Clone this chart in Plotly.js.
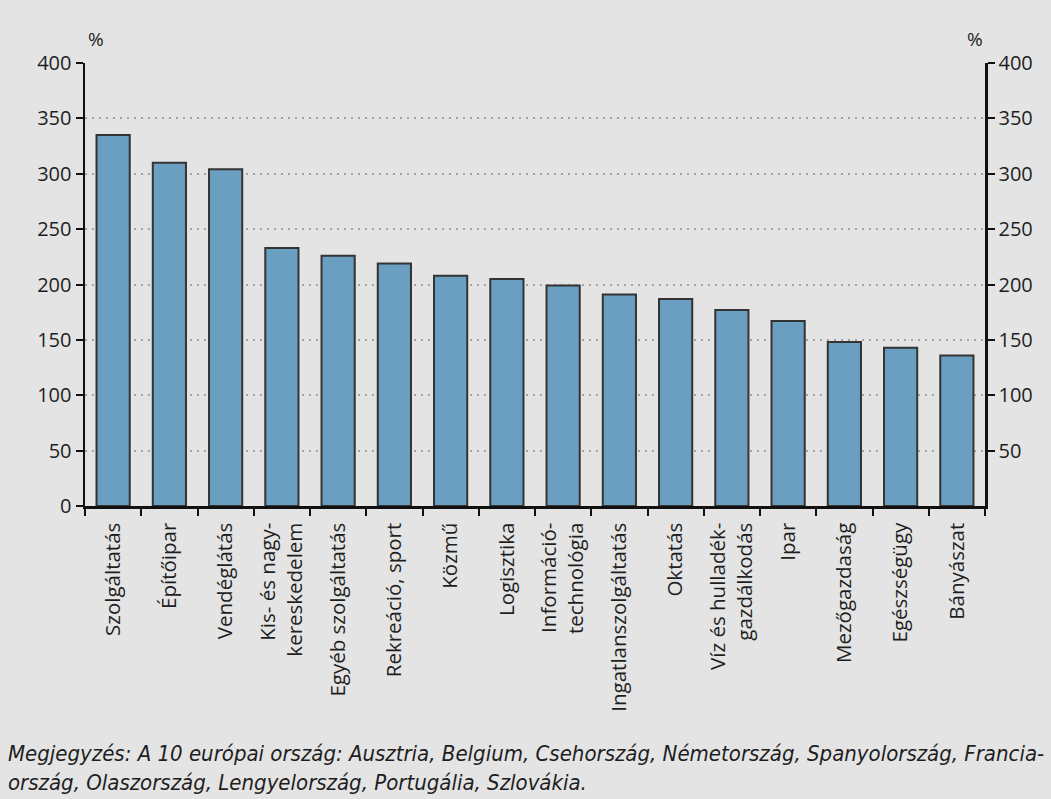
<!DOCTYPE html>
<html>
<head>
<meta charset="utf-8">
<script src="https://cdn.plot.ly/plotly-3.0.1.min.js"></script>
<style>
  html, body { margin: 0; padding: 0; background: #e4e4e4; }
  #chart { width: 1051px; height: 799px; }
</style>
</head>
<body>
<div id="chart"></div>
<script>
// Sectors (category labels, two-line where the label wraps)
const sectors = [
  "Szolgáltatás",
  "Építőipar",
  "Vendéglátás",
  "Kis- és nagy-<br>kereskedelem",
  "Egyéb szolgáltatás",
  "Rekreáció, sport",
  "Közmű",
  "Logisztika",
  "Információ-<br>technológia",
  "Ingatlanszolgáltatás",
  "Oktatás",
  "Víz és hulladék-<br>gazdálkodás",
  "Ipar",
  "Mezőgazdaság",
  "Egészségügy",
  "Bányászat"
];

// Values, %
const values = [335, 310, 304, 233, 226, 219, 208, 205, 199, 191, 187, 177, 167, 148, 143, 136];

// Axis ticks
const leftTicks = [0, 50, 100, 150, 200, 250, 300, 350, 400];
const rightTicks = [50, 100, 150, 200, 250, 300, 350, 400];

const note = "Megjegyzés: A 10 európai ország: Ausztria, Belgium, Csehország, Németország, Spanyolország, Francia-<br>ország, Olaszország, Lengyelország, Portugália, Szlovákia.";

const font = "Open Sans, Noto Sans, sans-serif";
const ink = "#1e1e1e";

const bars = {
  type: "bar",
  x: sectors,
  y: values,
  marker: { color: "#6a9fc1", line: { color: "#333", width: 2 } },
  hoverinfo: "x+y"
};

// Same series on the right-hand scale (no visible marks) so the mirrored axis is drawn
const rightScale = {
  type: "scatter",
  mode: "none",
  x: sectors,
  y: values,
  yaxis: "y2",
  hoverinfo: "skip"
};

const axisCommon = {
  ticks: "outside",
  ticklen: 7,
  tickwidth: 2,
  tickcolor: "#111",
  showline: true,
  linecolor: "#111",
  linewidth: 2.5,
  zeroline: false,
  fixedrange: true
};

const layout = {
  width: 1051,
  height: 799,
  paper_bgcolor: "#e4e4e4",
  plot_bgcolor: "#e4e4e4",
  margin: { l: 85, r: 66, t: 63, b: 293 },
  bargap: 0.41,
  showlegend: false,
  font: { family: font, size: 20, color: ink },
  xaxis: Object.assign({}, axisCommon, {
    type: "category",
    tickson: "boundaries",
    tickangle: -90,
    showgrid: false,
    ticklabelstandoff: 6,
    tickfont: { family: font, size: 20.5, color: ink }
  }),
  yaxis: Object.assign({}, axisCommon, {
    range: [0, 400],
    tickvals: leftTicks,
    showgrid: true,
    gridcolor: "#a3a3a3",
    griddash: "2px,5px",
    gridwidth: 2,
    tickfont: { family: font, size: 20, color: ink }
  }),
  yaxis2: Object.assign({}, axisCommon, {
    overlaying: "y",
    side: "right",
    range: [0, 400],
    tickvals: rightTicks,
    showgrid: false,
    tickfont: { family: font, size: 20, color: ink }
  }),
  annotations: [
    { xref: "paper", yref: "paper", x: 0.001, y: 1.02, xanchor: "left", yanchor: "bottom",
      text: "%", showarrow: false, font: { family: font, size: 19, color: ink } },
    { xref: "paper", yref: "paper", x: 1.0, y: 1.02, xanchor: "right", yanchor: "bottom",
      text: "%", showarrow: false, font: { family: font, size: 19, color: ink } },
    { xref: "paper", yref: "paper", x: -0.088, y: -0.525, xanchor: "left", yanchor: "top",
      align: "left", text: "<i>" + note + "</i>", showarrow: false,
      font: { family: "Liberation Sans Narrow, DejaVu Sans Condensed, sans-serif", size: 22, color: ink } }
  ]
};

Plotly.newPlot("chart", [bars, rightScale], layout, { displayModeBar: false, staticPlot: true });
</script>
</body>
</html>
